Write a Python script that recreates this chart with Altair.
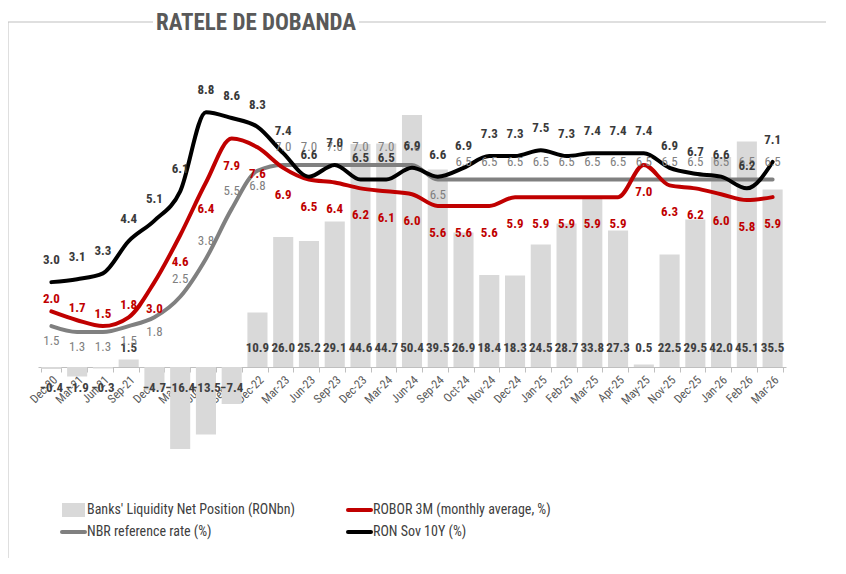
import altair as alt
import pandas as pd

cats = ["Dec-20", "Mar-21", "Jun-21", "Sep-21", "Dec-21", "Mar-22", "Jun-22", "Sep-22",
        "Dec-22", "Mar-23", "Jun-23", "Sep-23", "Dec-23", "Mar-24", "Jun-24", "Sep-24",
        "Oct-24", "Nov-24", "Dec-24", "Jan-25", "Feb-25", "Mar-25", "Apr-25", "May-25",
        "Nov-25", "Dec-25", "Jan-26", "Feb-26", "Mar-26"]
liquidity = [-0.4, -1.9, -0.3, 1.5, -4.7, -16.4, -13.5, -7.4, 10.9, 26.0, 25.2, 29.1, 44.6,
             44.7, 50.4, 39.5, 26.9, 18.4, 18.3, 24.5, 28.7, 33.8, 27.3, 0.5, 22.5, 29.5,
             42.0, 45.1, 35.5]
robor = [2.0, 1.7, 1.5, 1.8, 3.0, 4.6, 6.4, 7.9, 7.6, 6.9, 6.5, 6.4, 6.2, 6.1, 6.0, 5.6,
         5.6, 5.6, 5.9, 5.9, 5.9, 5.9, 5.9, 7.0, 6.3, 6.2, 6.0, 5.8, 5.9]
nbr = [1.5, 1.3, 1.3, 1.5, 1.8, 2.5, 3.8, 5.5, 6.8, 7.0, 7.0, 7.0, 7.0, 7.0, 7.0, 6.5,
       6.5, 6.5, 6.5, 6.5, 6.5, 6.5, 6.5, 6.5, 6.5, 6.5, 6.5, 6.5, 6.5]
sov = [3.0, 3.1, 3.3, 4.4, 5.1, 6.1, 8.8, 8.6, 8.3, 7.4, 6.6, 7.0, 6.5, 6.5, 6.9, 6.6,
       6.9, 7.3, 7.3, 7.5, 7.3, 7.4, 7.4, 7.4, 6.9, 6.7, 6.6, 6.2, 7.1]

# label placement groups (style, not data)
robor_above = ["Dec-20", "Mar-21", "Jun-21", "Sep-21"]
nbr_below = ["Dec-20", "Mar-21", "Jun-21", "Sep-21", "Dec-21", "Dec-22", "Sep-24"]

df = pd.DataFrame({"cat": cats, "liq": liquidity, "robor": robor, "nbr": nbr, "sov": sov})

NF = "Roboto Condensed, Noto Sans Condensed, Liberation Sans Narrow, Liberation Sans, sans-serif"
RED = "#C00000"
GRAY = "#808080"
BAR = "#D9D9D9"
DARK = "#404040"

W, H = 748, 400
bar_dom = [-18.6, 61.4]
line_dom = [-3.07, 10.58]

x_enc = alt.X("cat:N", sort=cats,
              scale=alt.Scale(paddingInner=0.22, paddingOuter=0.13),
              axis=alt.Axis(title=None, labelAngle=-45, labelAlign="right", labelBaseline="top",
                            labelFont=NF, labelFontSize=12, labelColor="#595959",
                            labelPadding=2, domainColor="#BFBFBF", tickColor="#BFBFBF",
                            tickSize=5, tickBand="extent", offset=-93, labelOverlap=False))

ybar = lambda f: alt.Y(f, scale=alt.Scale(domain=bar_dom, nice=False, zero=False), axis=None)
yline = lambda f: alt.Y(f, scale=alt.Scale(domain=line_dom, nice=False, zero=False), axis=None)

base = alt.Chart(df)

bars = base.mark_bar(color=BAR).encode(x=x_enc, y=ybar("liq:Q"))

bar_lab = base.transform_calculate(
    ly="datum.liq >= 0 ? 3.8 : -4.2"
).mark_text(font=NF, fontSize=13, fontWeight="bold", color=DARK, baseline="middle").encode(
    x=x_enc, y=ybar("ly:Q"), text=alt.Text("liq:Q", format=".1f"))

def line(field, color):
    return base.mark_line(color=color, strokeWidth=4, interpolate="monotone",
                          strokeCap="round").encode(x=x_enc, y=yline(field + ":Q"))

def lab(field, color, dy, weight="bold", filt=None):
    c = base
    if filt is not None:
        c = c.transform_filter(filt)
    return c.mark_text(font=NF, fontSize=13, fontWeight=weight, color=color, dy=dy,
                       baseline="middle").encode(
        x=x_enc, y=yline(field + ":Q"), text=alt.Text(field + ":Q", format=".1f"))

in_ra = alt.FieldOneOfPredicate(field="cat", oneOf=robor_above)
in_nb = alt.FieldOneOfPredicate(field="cat", oneOf=nbr_below)

layers = [
    bars, bar_lab,
    line("nbr", GRAY), line("robor", RED), line("sov", "#000000"),
    lab("nbr", GRAY, -18, "normal", alt.LogicalNotPredicate(**{"not": in_nb})),
    lab("nbr", GRAY, 15, "normal", in_nb),
    lab("robor", RED, -12, "bold", in_ra),
    lab("robor", RED, 27, "bold", alt.LogicalNotPredicate(**{"not": in_ra})),
    lab("sov", "#3A3A3A", -22),
]

# decoration: frame, title, legend (pixel space of plot)
dec = alt.Chart(pd.DataFrame({"a": [0]}))
frame = [
    dec.mark_rule(color="#BFBFBF", strokeWidth=1).encode(
        x=alt.value(-30), y=alt.value(-38), y2=alt.value(498)),
    dec.mark_rule(color="#BFBFBF", strokeWidth=1).encode(
        x=alt.value(-30), x2=alt.value(115), y=alt.value(-38)),
    dec.mark_rule(color="#BFBFBF", strokeWidth=1).encode(
        x=alt.value(321), x2=alt.value(790), y=alt.value(-38)),
    dec.mark_text(text="RATELE DE DOBANDA", font=NF, fontSize=23, fontWeight="bold",
                  color="#595959", align="center", baseline="middle").encode(
        x=alt.value(218), y=alt.value(-37)),
]

def leg_text(t, x, y):
    return dec.mark_text(text=t, font=NF, fontSize=14, color="#404040", align="left",
                         baseline="middle").encode(x=alt.value(x), y=alt.value(y))

def leg_line(color, x, y):
    return dec.mark_rule(color=color, strokeWidth=4, strokeCap="round").encode(
        x=alt.value(x), x2=alt.value(x + 23), y=alt.value(y))

legend = [
    dec.mark_rect(color=BAR).encode(x=alt.value(24), x2=alt.value(47),
                                    y=alt.value(443), y2=alt.value(457)),
    leg_text("Banks' Liquidity Net Position (RONbn)", 49, 450),
    leg_line(GRAY, 24, 472),
    leg_text("NBR reference rate (%)", 49, 472),
    leg_line(RED, 310, 450),
    leg_text("ROBOR 3M (monthly average, %)", 335, 450),
    leg_line("#000000", 310, 472),
    leg_text("RON Sov 10Y (%)", 335, 472),
]

chart = alt.layer(*(layers + frame + legend)).resolve_scale(y="independent").properties(
    width=W, height=H,
    autosize=alt.AutoSizeParams(type="none"),
    padding={"left": 30, "top": 52, "right": 40, "bottom": 98},
).configure_view(stroke=None)

chart.save("out.html", embed_options={"renderer": "svg", "actions": False})
